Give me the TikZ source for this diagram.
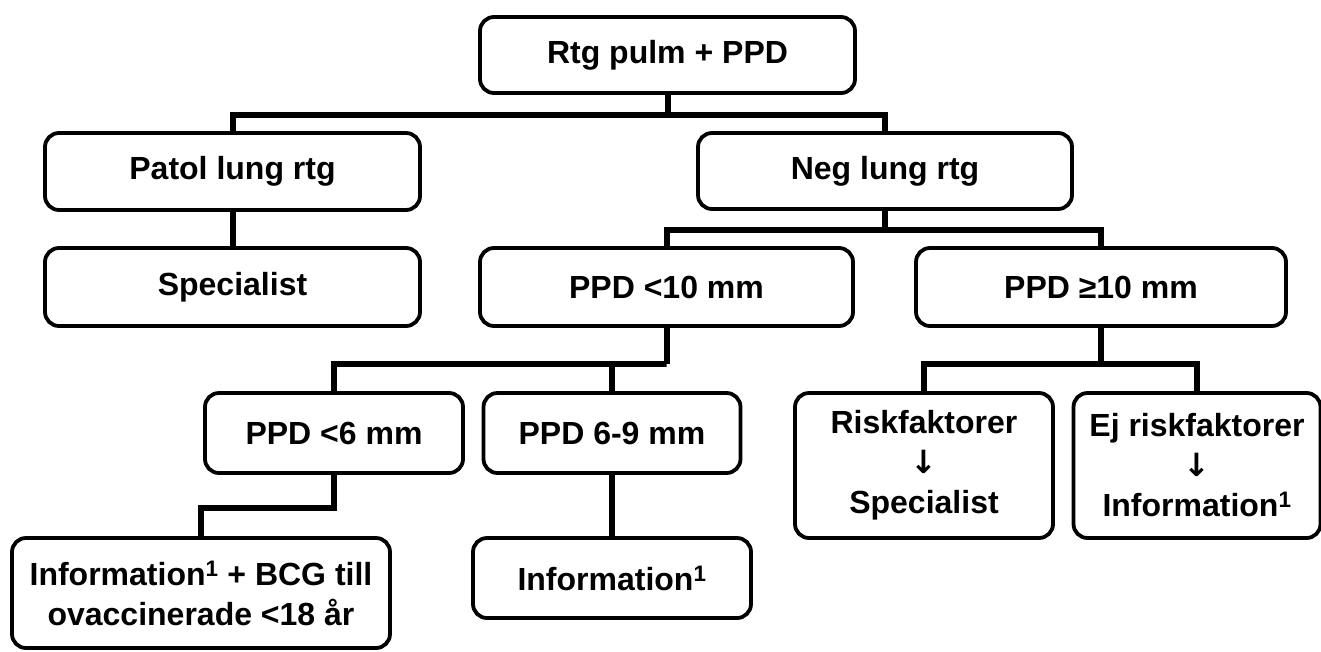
\documentclass[tikz,border=0pt]{standalone}
\usepackage{fontspec}
\setmainfont{Liberation Sans}
\newfontfamily\arrowfont{DejaVu Sans}
\usetikzlibrary{calc}
\newcommand{\downarr}{{\arrowfont\bfseries ↓}}

\begin{document}
\begin{tikzpicture}[
  x=1pt, y=-1pt,
  font=\fontsize{32}{40}\selectfont\bfseries,
  box/.style 2 args={draw, rounded corners=14pt, line width=3.8pt, align=center, inner sep=0pt, minimum width=#1, minimum height=#2},
  link/.style={line width=6pt},
]
\fill[white] (0,0) rectangle (1321,651);
\useasboundingbox (0,0) rectangle (1321,651);

% ── first levels ──────────────────────────────────────────────────────────
\node[box={375pt}{76pt}] (rtg) at (667.5,55) {Rtg pulm + PPD};
\node[box={375pt}{77pt}] (patol) at (232.5,171.5) {Patol lung rtg};
\node[box={374pt}{76pt}] (neg) at (885,171) {Neg lung rtg};
\node[box={375pt}{78pt}] (spec) at (232.5,287) {Specialist};
\node[box={373pt}{78pt}] (ppdlt) at (666.5,287) {PPD <10 mm};
\node[box={370pt}{78pt}] (ppdge) at (1101,287) {PPD ≥10 mm};

% ── PPD levels ────────────────────────────────────────────────────────────
\node[box={258pt}{80pt}] (ppdsix) at (334,433) {PPD <6 mm};
\node[box={257pt}{80pt}] (ppdmid) at (612,433) {PPD 6-9 mm};
\node[box={258pt}{145pt}] (risk) at (924,465.5) {Riskfaktorer\\\downarr\\Specialist};
\node[box={247pt}{145pt}] (norisk) at (1197,465.5) {Ej riskfaktorer\\\downarr\\Information\textsuperscript{1}};

% ── outcomes ──────────────────────────────────────────────────────────────
\node[box={378pt}{110pt}] (infobcg) at (201,593) {Information\textsuperscript{1} + BCG till\\ovaccinerade <18 år};
\node[box={278pt}{80pt}] (info) at (612,578) {Information\textsuperscript{1}};

% ── connectors ────────────────────────────────────────────────────────────
\coordinate (j1) at ($(rtg.south)+(0,20)$);
\coordinate (j2) at ($(neg.south)+(0,19)$);
\coordinate (j3) at ($(ppdlt.south)+(0,36)$);
\coordinate (j4) at ($(ppdge.south)+(0,36)$);
\draw[link] (rtg.south) -- (j1);
\draw[link] (patol.north) |- (j1) -| (neg.north);
\draw[link] (patol) -- (spec);
\draw[link] (neg.south) -- (j2);
\draw[link] (ppdlt.north) |- (j2) -| (ppdge.north);
\draw[link] (ppdlt.south) -- (j3);
\draw[link] (ppdsix.north) |- (j3) -| (ppdmid.north);
\draw[link] (ppdge.south) -- (j4);
\draw[link] (risk.north) |- (j4) -| (norisk.north);
\draw[link] (ppdsix.south) -- ++(0,33) -| (infobcg.north);
\draw[link] (ppdmid) -- (info);
\end{tikzpicture}
\end{document}
